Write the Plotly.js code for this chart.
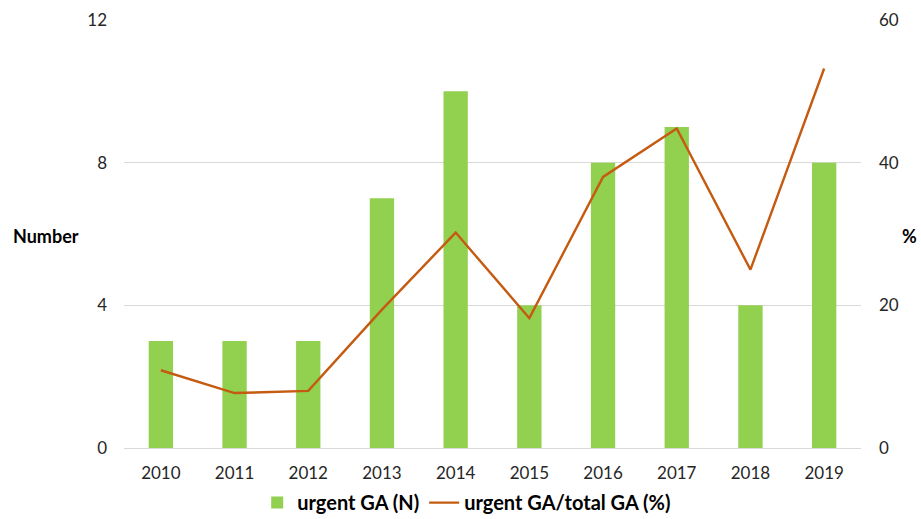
<!DOCTYPE html>
<html>
<head>
<meta charset="utf-8">
<script src="https://cdn.plot.ly/plotly-3.0.1.min.js"></script>
<style>html,body{margin:0;padding:0;background:#fff;}#chart{width:921px;height:519px;}</style>
</head>
<body>
<div id="chart"></div>
<script>
const years = ['2010','2011','2012','2013','2014','2015','2016','2017','2018','2019'];
const urgentN = [3, 3, 3, 7, 10, 4, 8, 9, 4, 8];
const urgentPct = [10.9, 7.7, 8.0, 19.4, 30.2, 18.2, 38.0, 44.8, 25.0, 53.2];
const leftTicks = [0, 4, 8, 12];
const rightTicks = [0, 20, 40, 60];

const FONT = 'Lato, "Open Sans", "Noto Sans", sans-serif';

const data = [
  {
    type: 'bar', x: years, y: urgentN, name: 'urgent GA (N)',
    marker: {color: '#92d050'}, yaxis: 'y'
  },
  {
    type: 'scatter', mode: 'lines', x: years, y: urgentPct, name: 'urgent GA/total GA (%)',
    line: {color: '#c55a11', width: 2.4}, yaxis: 'y2'
  }
];

const layout = {
  width: 921, height: 519,
  margin: {l: 124, r: 60, t: 20, b: 71, autoexpand: false},
  paper_bgcolor: '#ffffff', plot_bgcolor: '#ffffff',
  font: {family: FONT, size: 17, color: '#262626'},
  bargap: 0.67,
  showlegend: true,
  legend: {
    orientation: 'h', x: 0.465, xanchor: 'center', y: -0.082, yanchor: 'top',
    font: {family: FONT, size: 20, color: '#000', weight: 'bold'},
    itemwidth: 30, tracegroupgap: 0
  },
  xaxis: {
    type: 'category', showgrid: false, zeroline: false,
    showline: true, linecolor: '#d9d9d9', linewidth: 1,
    ticks: '', tickfont: {size: 17, color: '#262626'}, ticklabelstandoff: 10
  },
  yaxis: {
    range: [0, 12], tickvals: leftTicks, ticktext: leftTicks.map(String),
    showgrid: true, gridcolor: '#d9d9d9', gridwidth: 1, zeroline: false,
    showline: false, ticks: '', ticklabelstandoff: 16,
    tickfont: {size: 17, color: '#262626'}
  },
  yaxis2: {
    range: [0, 60], tickvals: rightTicks, ticktext: rightTicks.map(String),
    overlaying: 'y', side: 'right', showgrid: false, zeroline: false,
    showline: false, ticks: '', ticklabelstandoff: 17,
    tickfont: {size: 17, color: '#262626'}
  },
  annotations: [
    {text: 'Number', xref: 'paper', yref: 'paper', x: -0.106, y: 0.495,
     xanchor: 'center', yanchor: 'middle', showarrow: false,
     font: {family: FONT, size: 18, color: '#000', weight: 'bold'}},
    {text: '%', xref: 'paper', yref: 'paper', x: 1.066, y: 0.495,
     xanchor: 'center', yanchor: 'middle', showarrow: false,
     font: {family: FONT, size: 18, color: '#000', weight: 'bold'}}
  ]
};

Plotly.newPlot('chart', data, layout, {displayModeBar: false, responsive: false});
</script>
</body>
</html>
